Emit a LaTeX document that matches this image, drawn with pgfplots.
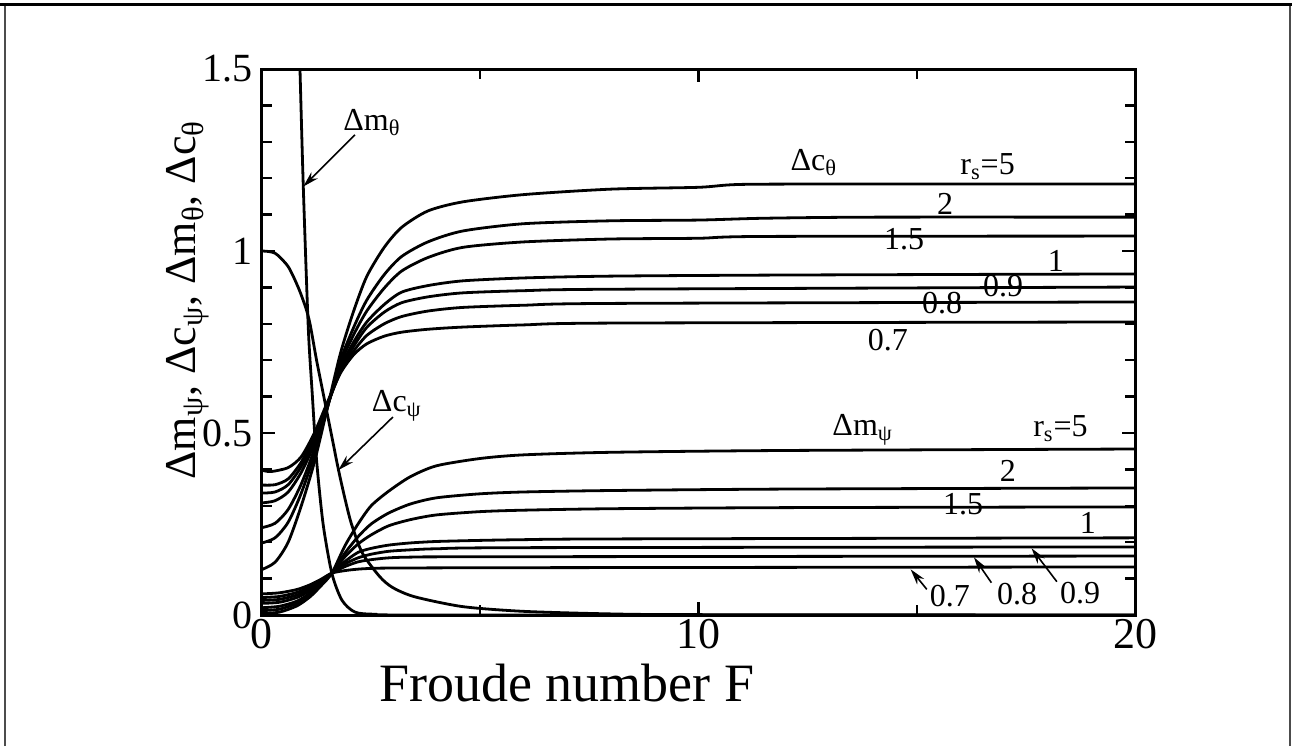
\documentclass[border=0pt]{standalone}
\usepackage{fontspec}
\setmainfont{Liberation Serif}
\usepackage{pgfplots}
\pgfplotsset{compat=1.18}
\usetikzlibrary{arrows.meta}
\newcommand{\sub}[1]{\textsubscript{#1}}
\begin{document}
\begin{tikzpicture}
% 1 px of the reference = 0.5pt; axis origin at px (262,615)
\path[use as bounding box] (-131pt,-65.5pt) rectangle (515pt,307.5pt);
\draw[black!70, line width=1pt] (-128.5pt,-65.5pt) -- (-128.5pt,305pt);
\draw[black!70, line width=1pt] (514pt,-65.5pt) -- (514pt,305pt);
\draw[black, line width=1.5pt] (-131pt,305pt) -- (515pt,305pt);

\begin{axis}[
    at={(0,0)}, anchor=south west,
    scale only axis, width=436.5pt, height=273pt,
    xmin=0, xmax=20, ymin=0, ymax=1.5,
    axis line style={line width=1.5pt},
    tick align=inside, xtick pos=both, ytick pos=both,
    xtick={0,10,20}, minor xtick={5,15},
    ytick={0,0.5,1,1.5}, minor y tick num=4,
    major tick length=6.5pt, minor tick length=5pt,
    every tick/.style={black, line width=1.2pt},
    /pgf/number format/assume math mode=true,
    tick label style={font=\fontsize{20}{24}\selectfont},
    xticklabel style={font=\fontsize{22}{26}\selectfont, inner sep=1pt, yshift=-1pt},
    yticklabel style={xshift=-1pt},
    xlabel={Froude number F},
    xlabel style={font=\fontsize{27}{31}\selectfont, inner sep=0pt, at={(axis description cs:0.349,-0.158)}, anchor=base},
    ylabel={Δm\sub{ψ}, Δc\sub{ψ}, Δm\sub{θ}, Δc\sub{θ}},
    ylabel style={font=\fontsize{22}{26}\selectfont, at={(axis description cs:-0.085,0.577)}, anchor=center},
    cycle list={{black, solid, mark=none}},
    every axis plot/.append style={black, line width=1.4pt, smooth, tension=0.45, mark=none},
]
% Delta c_theta, r_s = 5, 2, 1.5, 1, 0.9, 0.8, 0.7
\addplot coordinates {(0,0.125) (0.3,0.145) (0.6,0.20) (0.9,0.30) (1.2,0.42) (1.5,0.57) (1.8,0.72) (2.1,0.835) (2.4,0.93) (2.8,1.01) (3.2,1.065) (3.8,1.11) (4.6,1.135) (6,1.155) (8,1.17) (10,1.175) (11,1.183) (14,1.184) (20,1.184)};
\addplot coordinates {(0,0.198) (0.3,0.212) (0.6,0.255) (0.9,0.335) (1.2,0.44) (1.5,0.57) (1.8,0.70) (2.1,0.79) (2.4,0.865) (2.8,0.935) (3.2,0.985) (3.8,1.025) (4.6,1.055) (6,1.075) (8,1.083) (10,1.085) (11.5,1.09) (14,1.093) (20,1.093)};
\addplot coordinates {(0,0.24) (0.3,0.252) (0.6,0.29) (0.9,0.36) (1.2,0.455) (1.5,0.572) (1.8,0.69) (2.1,0.77) (2.4,0.835) (2.8,0.898) (3.2,0.945) (3.8,0.982) (4.6,1.01) (6,1.025) (8,1.033) (10,1.035) (11.5,1.04) (20,1.041)};
\addplot coordinates {(0,0.308) (0.3,0.314) (0.6,0.338) (0.9,0.392) (1.2,0.47) (1.5,0.575) (1.8,0.68) (2.1,0.75) (2.4,0.805) (2.8,0.853) (3.2,0.887) (3.8,0.905) (4.6,0.918) (6,0.926) (8,0.931) (12,0.934) (20,0.937)};
\addplot coordinates {(0,0.335) (0.3,0.338) (0.6,0.358) (0.9,0.408) (1.2,0.48) (1.5,0.577) (1.8,0.673) (2.1,0.738) (2.4,0.79) (2.8,0.832) (3.2,0.858) (3.8,0.874) (4.6,0.885) (6,0.891) (8,0.895) (20,0.901)};
\addplot coordinates {(0,0.357) (0.3,0.358) (0.6,0.374) (0.9,0.42) (1.2,0.49) (1.5,0.58) (1.8,0.668) (2.1,0.725) (2.4,0.768) (2.8,0.80) (3.2,0.82) (3.8,0.835) (4.6,0.845) (6,0.851) (8,0.856) (20,0.860)};
\addplot coordinates {(0,0.398) (0.2,0.394) (0.6,0.405) (0.9,0.435) (1.2,0.50) (1.5,0.585) (1.8,0.665) (2.1,0.715) (2.4,0.745) (2.8,0.766) (3.2,0.777) (3.8,0.785) (4.6,0.791) (6,0.797) (8,0.802) (20,0.805)};

% Delta m_psi, r_s = 5, 2, 1.5, 1, 0.9, 0.8, 0.7
\addplot coordinates {(0,0.004) (0.4,0.008) (0.8,0.025) (1.1,0.05) (1.35,0.08) (1.6,0.115) (1.9,0.19) (2.2,0.25) (2.5,0.30) (2.9,0.34) (3.4,0.38) (4,0.41) (5,0.43) (6,0.44) (8,0.447) (12,0.452) (20,0.456)};
\addplot coordinates {(0,0.012) (0.4,0.016) (0.8,0.032) (1.1,0.055) (1.35,0.082) (1.6,0.115) (1.9,0.17) (2.2,0.215) (2.5,0.25) (2.9,0.28) (3.4,0.305) (4,0.322) (5,0.333) (6,0.338) (8,0.342) (12,0.346) (20,0.349)};
\addplot coordinates {(0,0.02) (0.4,0.024) (0.8,0.038) (1.1,0.06) (1.35,0.085) (1.6,0.115) (1.9,0.16) (2.2,0.195) (2.5,0.22) (2.9,0.245) (3.4,0.262) (4,0.275) (5,0.284) (6,0.288) (8,0.292) (12,0.295) (20,0.297)};
\addplot coordinates {(0,0.032) (0.4,0.035) (0.8,0.048) (1.1,0.067) (1.35,0.09) (1.6,0.115) (1.9,0.147) (2.2,0.172) (2.5,0.183) (2.9,0.192) (3.4,0.198) (4,0.202) (5,0.205) (6,0.207) (8,0.209) (20,0.212)};
\addplot coordinates {(0,0.04) (0.4,0.043) (0.8,0.055) (1.1,0.072) (1.35,0.093) (1.6,0.115) (1.9,0.14) (2.2,0.157) (2.5,0.167) (2.9,0.175) (3.4,0.179) (4,0.182) (6,0.185) (20,0.187)};
\addplot coordinates {(0,0.048) (0.4,0.051) (0.8,0.062) (1.1,0.077) (1.35,0.095) (1.6,0.115) (1.9,0.133) (2.2,0.146) (2.5,0.152) (2.9,0.157) (3.4,0.159) (5,0.16) (20,0.162)};
\addplot coordinates {(0,0.058) (0.4,0.061) (0.8,0.07) (1.1,0.083) (1.35,0.098) (1.6,0.115) (1.9,0.122) (2.2,0.126) (2.5,0.128) (3,0.129) (6,0.13) (20,0.132)};

% Delta c_psi
\addplot coordinates {(0,1.0) (0.3,0.994) (0.6,0.957) (0.83,0.90) (1.0,0.845) (1.1,0.80) (1.25,0.70) (1.4,0.61) (1.6,0.49) (1.75,0.40) (1.9,0.32) (2.05,0.25) (2.3,0.17) (2.7,0.105) (3.0,0.075) (3.5,0.05) (4.6,0.023) (6,0.01) (8,0.003) (10,0.001) (20,0)};
% Delta m_theta
\addplot coordinates {(0.84,1.62) (0.87,1.5) (0.946,1.177) (1.06,0.79) (1.15,0.61) (1.25,0.426) (1.4,0.25) (1.6,0.115) (1.83,0.041) (2.13,0.008) (2.6,0.002) (4,0) (20,0)};

% labels
\begin{scope}[every node/.style={font=\fontsize{16}{19}\selectfont, inner sep=0pt}]
\node[anchor=base west] at (1.856,1.332) {Δm\sub{θ}};
\node[anchor=base west] at (2.51,0.5586) {Δc\sub{ψ}};
\node[anchor=base west] at (12.10,1.2225) {Δc\sub{θ}};
\node[anchor=base west] at (15.99,1.2115) {r\sub{s}=5};
\node[anchor=base] at (15.65,1.099) {2};
\node[anchor=base] at (14.71,1.003) {1.5};
\node[anchor=base] at (18.19,0.943) {1};
\node[anchor=base] at (16.98,0.875) {0.9};
\node[anchor=base] at (15.58,0.829) {0.8};
\node[anchor=base] at (14.34,0.728) {0.7};
\node[anchor=base west] at (13.06,0.4945) {Δm\sub{ψ}};
\node[anchor=base west] at (17.66,0.49) {r\sub{s}=5};
\node[anchor=base] at (17.09,0.366) {2};
\node[anchor=base] at (16.06,0.275) {1.5};
\node[anchor=base] at (18.92,0.224) {1};
\node[anchor=base] at (15.76,0.0229) {0.7};
\node[anchor=base] at (17.30,0.0275) {0.8};
\node[anchor=base] at (18.74,0.032) {0.9};
\end{scope}
\begin{scope}[line width=0.8pt, -{Stealth[length=8pt,width=4.5pt]}]
\draw (2.13,1.319) -- (0.946,1.177);
\draw (3.0,0.544) -- (1.748,0.398);
\draw (15.23,0.0705) -- (14.86,0.1255);
\draw (16.71,0.0888) -- (16.31,0.1585);
\draw (18.21,0.0915) -- (17.63,0.1832);
\end{scope}
\end{axis}
\end{tikzpicture}
\end{document}
